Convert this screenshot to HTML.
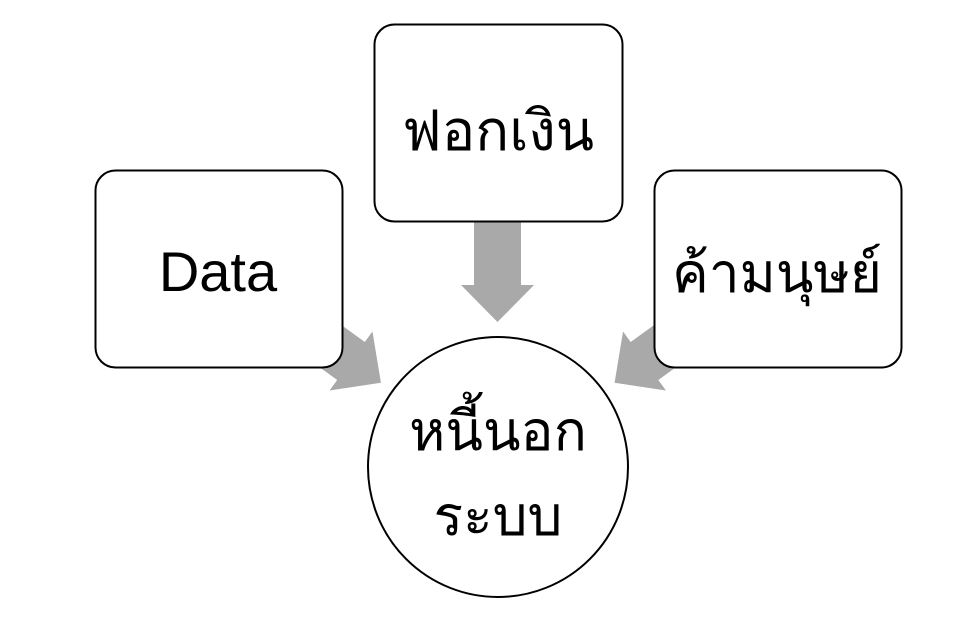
<!DOCTYPE html>
<html><head><meta charset="utf-8"><style>
html,body{margin:0;padding:0;background:#fff;width:967px;height:622px;overflow:hidden}
svg{display:block}
text{font-family:"Liberation Sans","DejaVu Sans",sans-serif;fill:#000}
</style></head><body>
<svg width="967" height="622" viewBox="0 0 967 622" xmlns="http://www.w3.org/2000/svg">
<defs>
<polygon id="arr" points="-70,-23.5 0,-23.5 0,-36.5 37,0 0,36.5 0,23.5 -70,23.5" fill="#a9a9a9"/>
</defs>
<use href="#arr" transform="translate(497.5,285) rotate(90)"/>
<use href="#arr" transform="translate(351,361) rotate(36)"/>
<use href="#arr" transform="translate(644.5,361) rotate(144)"/>
<rect x="374.5" y="24.5" width="248" height="197" rx="20" fill="#fff" stroke="#000" stroke-width="2"/>
<rect x="95.5" y="170.5" width="247" height="197" rx="20" fill="#fff" stroke="#000" stroke-width="2"/>
<rect x="654.5" y="170.5" width="247" height="197" rx="20" fill="#fff" stroke="#000" stroke-width="2"/>
<circle cx="498" cy="467" r="130" fill="#fff" stroke="#000" stroke-width="2"/>
<text x="498" y="150" font-size="56" text-anchor="middle">ฟอกเงิน</text>
<text x="218" y="291" font-size="56" text-anchor="middle">Data</text>
<text x="777" y="292" font-size="55" text-anchor="middle">ค้ามนุษย์</text>
<text x="498" y="450" font-size="55" text-anchor="middle">หนี้นอก</text>
<text x="498" y="535" font-size="55" text-anchor="middle">ระบบ</text>
</svg>
</body></html>
